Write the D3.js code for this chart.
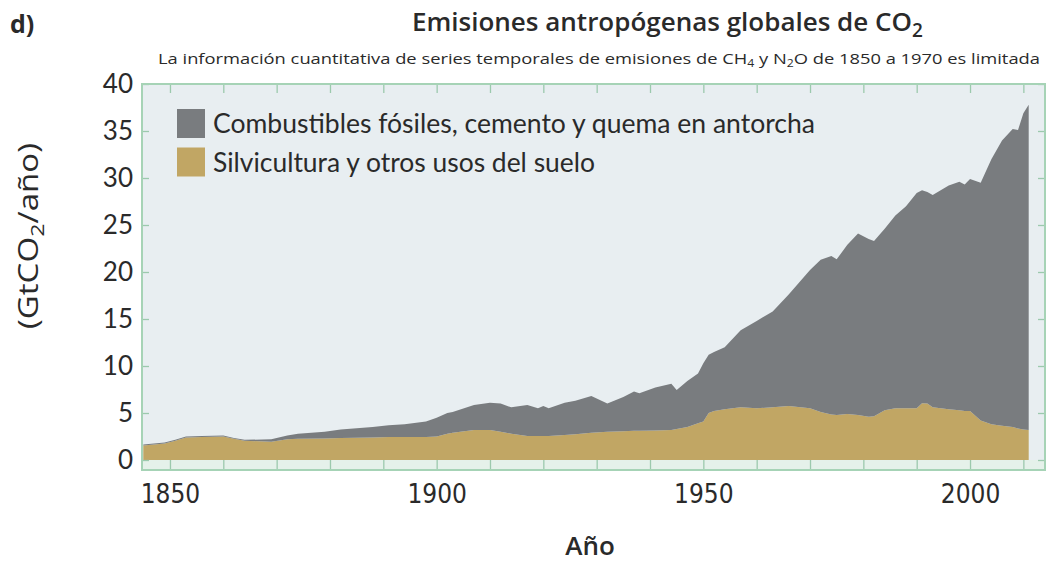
<!DOCTYPE html>
<html>
<head>
<meta charset="utf-8">
<script src="https://cdn.jsdelivr.net/npm/d3@7"></script>
<style>
  body { margin: 0; background: #fff; }
  svg text { fill: #2a2a2a; }
</style>
</head>
<body>
<svg id="chart" width="1052" height="563"></svg>
<script>
// years
var years = [1845, 1849, 1851, 1853, 1856, 1860, 1862, 1864, 1869, 1872, 1874, 1879, 1882, 1888, 1891, 1894,
  1898, 1900, 1902, 1903, 1907, 1910, 1912, 1914, 1917, 1919, 1920, 1921, 1924, 1926, 1929, 1932, 1935,
  1937, 1938, 1941, 1944, 1945, 1947, 1949, 1950, 1951, 1952, 1954, 1957, 1960, 1963, 1966, 1970, 1972,
  1974, 1975, 1977, 1979, 1981, 1982, 1984, 1986, 1988, 1990, 1991, 1992, 1993, 1996, 1998, 1999, 2000,
  2002, 2004, 2006, 2008, 2009, 2010, 2011];

// Silvicultura y otros usos del suelo (GtCO2/año)
var landUse = [1.55, 1.75, 2.05, 2.4, 2.45, 2.5, 2.25, 2.05, 1.95, 2.2, 2.25, 2.3, 2.35, 2.4, 2.45, 2.45,
  2.45, 2.5, 2.8, 2.9, 3.2, 3.2, 3.0, 2.8, 2.55, 2.55, 2.55, 2.55, 2.65, 2.75, 2.9, 3.0, 3.05,
  3.1, 3.1, 3.15, 3.2, 3.3, 3.5, 3.9, 4.1, 5.0, 5.2, 5.4, 5.6, 5.5, 5.6, 5.75, 5.5, 5.1,
  4.85, 4.8, 4.9, 4.8, 4.6, 4.65, 5.3, 5.5, 5.5, 5.5, 6.05, 6.0, 5.6, 5.4, 5.3, 5.2, 5.2,
  4.2, 3.8, 3.65, 3.5, 3.35, 3.25, 3.2];

// Combustibles fósiles, cemento y quema en antorcha (GtCO2/año)
var fossil = [0.1, 0.1, 0.1, 0.1, 0.1, 0.1, 0.1, 0.1, 0.25, 0.4, 0.55, 0.7, 0.9, 1.1, 1.25, 1.35,
  1.65, 2.0, 2.2, 2.2, 2.65, 2.9, 3.0, 2.8, 3.3, 2.95, 3.2, 2.95, 3.45, 3.55, 3.9, 3.0, 3.65,
  4.2, 4.0, 4.55, 4.9, 4.15, 4.9, 5.3, 6.2, 6.2, 6.3, 6.6, 8.2, 9.3, 10.2, 11.85, 14.7, 16.2,
  16.85, 16.55, 18.0, 19.3, 18.9, 18.65, 19.3, 20.5, 21.5, 22.9, 22.65, 22.5, 22.6, 23.8, 24.3, 24.1, 24.7,
  25.3, 28.2, 30.35, 31.7, 31.75, 33.65, 34.6];

var seriesKeys = ["landUse", "fossil"];
var seriesLabels = ["Combustibles fósiles, cemento y quema en antorcha", "Silvicultura y otros usos del suelo"];
var yTicks = [0, 5, 10, 15, 20, 25, 30, 35, 40];
var xLabelTicks = [1850, 1900, 1950, 2000];

var colors = { fossil: "#797c7f", landUse: "#c1a664" };

var svg = d3.select("#chart");

// plot frame (not "top": that name is taken by window.top)
var frameL = 142, frameR = 1045, frameT = 84, frameB = 470;

var x = d3.scaleLinear().domain([1845, 2014]).range([143.3, 1044.7]);
var y = d3.scaleLinear().domain([0, 40]).range([460, 84]);

// background of plot and the strip under zero
svg.append("rect")
  .attr("x", frameL).attr("y", frameT)
  .attr("width", frameR - frameL).attr("height", frameB - frameT)
  .attr("fill", "#e8eef1");
svg.append("rect")
  .attr("x", frameL).attr("y", y(0))
  .attr("width", frameR - frameL).attr("height", frameB - y(0))
  .attr("fill", "#e5f1ea");

// stacked areas
var rows = years.map(function(yr, i) {
  return { year: yr, landUse: landUse[i], fossil: fossil[i] };
});
var stack = d3.stack().keys(seriesKeys);
var layers = stack(rows);

var area = d3.area()
  .x(function(d) { return x(d.data.year); })
  .y0(function(d) { return y(d[0]); })
  .y1(function(d) { return y(d[1]); });

svg.append("g").selectAll("path")
  .data(layers)
  .join("path")
  .attr("d", area)
  .attr("fill", function(d) { return colors[d.key]; });

// inward ticks on all four sides
var tickColor = "#9cc9ad";
var decades = d3.range(1850, 2011, 10);

function styleTicks(g) {
  g.select(".domain").remove();
  g.selectAll("line").attr("stroke", tickColor).attr("stroke-width", 1.3);
  g.selectAll("text").remove();
}

svg.append("g").attr("transform", "translate(0," + frameT + ")")
  .call(d3.axisTop(x).tickValues(decades).tickSize(-9)).call(styleTicks);
svg.append("g").attr("transform", "translate(0," + frameB + ")")
  .call(d3.axisBottom(x).tickValues(decades).tickSize(-10)).call(styleTicks);
svg.append("g").attr("transform", "translate(" + frameR + ",0)")
  .call(d3.axisRight(y).tickValues(yTicks).tickSize(-7)).call(styleTicks);

// left axis with labels
var yAxis = svg.append("g").attr("transform", "translate(" + frameL + ",0)")
  .call(d3.axisLeft(y).tickValues(yTicks).tickSize(-7).tickPadding(9));
yAxis.select(".domain").remove();
yAxis.selectAll("line").attr("stroke", tickColor).attr("stroke-width", 1.3);
yAxis.selectAll("text")
  .attr("font-family", "Lato, 'Open Sans', sans-serif")
  .attr("font-size", 26)
  .attr("fill", "#2a2a2a");

// frame
svg.append("rect")
  .attr("x", frameL).attr("y", frameT)
  .attr("width", frameR - frameL).attr("height", frameB - frameT)
  .attr("fill", "none")
  .attr("stroke", "#a6d3b6")
  .attr("stroke-width", 2);

// x labels
var xAxis = svg.append("g").attr("transform", "translate(0," + frameB + ")")
  .call(d3.axisBottom(x).tickValues(xLabelTicks).tickSize(0).tickPadding(15).tickFormat(d3.format("d")));
xAxis.select(".domain").remove();
xAxis.selectAll("text")
  .attr("font-family", "'DejaVu Sans Condensed', 'Liberation Sans Narrow', sans-serif")
  .attr("font-stretch", "condensed")
  .attr("font-size", 26)
  .attr("fill", "#2a2a2a");

// legend
var legendWidths = [602, 382];
var legend = svg.append("g").attr("transform", "translate(177,109)");
var legendKeys = ["fossil", "landUse"];
legendKeys.forEach(function(k, i) {
  var row = legend.append("g").attr("transform", "translate(0," + (i * 38.5) + ")");
  row.append("rect").attr("width", 28).attr("height", 29).attr("fill", colors[k]);
  row.append("text")
    .attr("x", 36).attr("y", 24)
    .attr("font-family", "Lato, 'Open Sans', sans-serif")
    .attr("font-size", 26)
    .attr("textLength", legendWidths[i])
    .attr("lengthAdjust", "spacingAndGlyphs")
    .text(seriesLabels[i]);
});

// titles
svg.append("text")
  .attr("x", 10).attr("y", 33)
  .attr("font-family", "'Open Sans', sans-serif")
  .attr("font-weight", 700)
  .attr("font-size", 25)
  .text("d)");

var title = svg.append("text")
  .attr("x", 412).attr("y", 31)
  .attr("font-family", "'Open Sans', sans-serif")
  .attr("font-weight", 600)
  .attr("font-size", 26);
title.append("tspan").text("Emisiones antropógenas globales de CO");
title.append("tspan").attr("font-size", 19).attr("dy", 6).text("2");

var sub = svg.append("text")
  .attr("x", 158).attr("y", 64)
  .attr("font-family", "'Open Sans', sans-serif")
  .attr("font-size", 15)
  .attr("textLength", 882)
  .attr("lengthAdjust", "spacingAndGlyphs");
sub.append("tspan").text("La información cuantitativa de series temporales de emisiones de CH");
sub.append("tspan").attr("font-size", 10).attr("dy", 3).text("4");
sub.append("tspan").attr("dy", -3).text(" y N");
sub.append("tspan").attr("font-size", 10).attr("dy", 3).text("2");
sub.append("tspan").attr("dy", -3).text("O de 1850 a 1970 es limitada");

// axis titles
var yLabel = svg.append("text")
  .attr("transform", "translate(38,236) rotate(-90)")
  .attr("text-anchor", "middle")
  .attr("font-family", "'Open Sans', Lato, sans-serif")
  .attr("font-size", 27)
  .attr("textLength", 186)
  .attr("lengthAdjust", "spacingAndGlyphs");
yLabel.append("tspan").text("(GtCO");
yLabel.append("tspan").attr("font-size", 19).attr("dy", 6).text("2");
yLabel.append("tspan").attr("dy", -6).text("/año)");

svg.append("text")
  .attr("x", 590).attr("y", 555)
  .attr("text-anchor", "middle")
  .attr("font-family", "'Open Sans', sans-serif")
  .attr("font-weight", 600)
  .attr("font-size", 26)
  .text("Año");
</script>
</body>
</html>
